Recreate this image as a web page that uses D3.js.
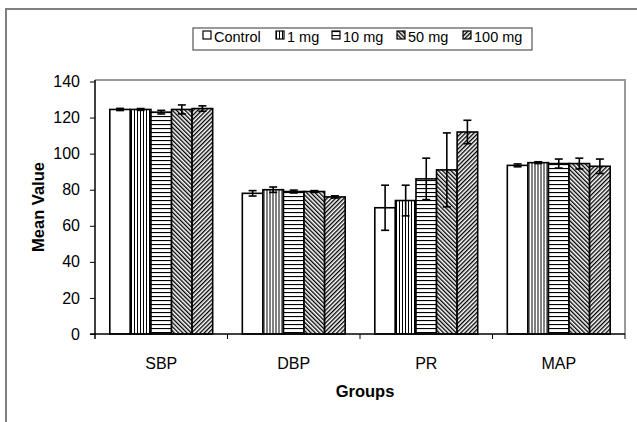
<!DOCTYPE html>
<meta charset="utf-8">
<style>
body { margin: 0; background: #fff; }
text { font-family: "Liberation Sans", Arial, sans-serif; fill: #000; }
.axis path, .axis line { stroke: #000; }
</style>
<body>
<script src="https://cdn.jsdelivr.net/npm/d3@7/dist/d3.min.js"></script>
<script>
const groups = ["SBP", "DBP", "PR", "MAP"];
const series = ["Control", "1 mg", "10 mg", "50 mg", "100 mg"];
// mean values per group, one array per series
const control = [124.5, 78, 70, 93.5];
const mg1 = [124.5, 80, 74, 95];
const mg10 = [123, 79, 86, 94.5];
const mg50 = [124.5, 79, 91, 94.5];
const mg100 = [125, 76, 112, 93];
// error bar half widths
const errControl = [0.6, 1.5, 12.5, 0.8];
const errMg1 = [0.5, 1.5, 8.5, 0.5];
const errMg10 = [1, 0.8, 11.5, 2.5];
const errMg50 = [2.5, 0.5, 20.5, 3];
const errMg100 = [1.5, 0.6, 6.5, 4];
const yTicks = [0, 20, 40, 60, 80, 100, 120, 140];

const values = [control, mg1, mg10, mg50, mg100];
const errors = [errControl, errMg1, errMg10, errMg50, errMg100];
const fills = ["#fff", "url(#pVert)", "url(#pHor)", "url(#pDown)", "url(#pUp)"];

const width = 637, height = 422;
const plotLeft = 95, plotRight = 625, plotTop = 80, plotBottom = 334;

const svg = d3.select("body").append("svg")
    .attr("width", width)
    .attr("height", height);

const defs = svg.append("defs");
function linePattern(id, w, h, x1, y1, x2, y2, sw, transform) {
    const p = defs.append("pattern")
        .attr("id", id)
        .attr("patternUnits", "userSpaceOnUse")
        .attr("width", w)
        .attr("height", h);
    if (transform) p.attr("patternTransform", transform);
    p.append("rect").attr("width", w).attr("height", h).attr("fill", "#fff");
    p.append("line")
        .attr("x1", x1).attr("y1", y1).attr("x2", x2).attr("y2", y2)
        .attr("stroke", "#000").attr("stroke-width", sw);
}
linePattern("pVert", 3, 10, 0.5, 0, 0.5, 10, 1);
linePattern("pHor", 10, 4, 0, 0.5, 10, 0.5, 1.2);
linePattern("pDown", 3, 10, 0.5, 0, 0.5, 10, 1.7, "rotate(-45)");
linePattern("pUp", 3, 10, 0.5, 0, 0.5, 10, 1.7, "rotate(45)");

// outer chart frame
svg.append("path")
    .attr("d", "M6," + height + "V9H" + width)
    .attr("fill", "none")
    .attr("stroke", "#808080")
    .attr("stroke-width", 2);

// plot area border (top/right)
svg.append("path")
    .attr("d", "M" + plotLeft + "," + plotTop + "H" + plotRight + "V" + plotBottom)
    .attr("fill", "none")
    .attr("stroke", "#999")
    .attr("stroke-width", 2);

const x0 = d3.scaleBand().domain(groups).range([plotLeft, plotRight]);
const x1 = d3.scaleBand().domain(series).range([0, x0.bandwidth()]).paddingOuter(0.72);
const y = d3.scaleLinear().domain([0, 140]).range([plotBottom, 81.5]);

const rows = groups.map((g, i) => series.map((s, j) => ({
    group: g, series: s, idx: j, value: values[j][i], err: errors[j][i]
})));

const gGroups = svg.append("g").selectAll("g")
    .data(rows)
    .join("g")
    .attr("transform", (d, i) => "translate(" + x0(groups[i]) + ",0)");

gGroups.selectAll("rect")
    .data(d => d)
    .join("rect")
    .attr("x", d => x1(d.series))
    .attr("y", d => y(d.value))
    .attr("width", x1.bandwidth())
    .attr("height", d => y(0) - y(d.value))
    .attr("fill", d => fills[d.idx])
    .attr("stroke", "#000")
    .attr("stroke-width", 1.6);

const eb = gGroups.selectAll("g.err")
    .data(d => d)
    .join("g")
    .attr("class", "err")
    .attr("stroke", "#000")
    .attr("stroke-width", 1.6);
eb.append("line")
    .attr("x1", d => x1(d.series) + x1.bandwidth() / 2)
    .attr("x2", d => x1(d.series) + x1.bandwidth() / 2)
    .attr("y1", d => y(d.value - d.err))
    .attr("y2", d => y(d.value + d.err));
[1, -1].forEach(sgn => {
    eb.append("line")
        .attr("x1", d => x1(d.series) + x1.bandwidth() / 2 - 4)
        .attr("x2", d => x1(d.series) + x1.bandwidth() / 2 + 4)
        .attr("y1", d => y(d.value + sgn * d.err))
        .attr("y2", d => y(d.value + sgn * d.err));
});

// y axis
const yAxis = svg.append("g")
    .attr("class", "axis")
    .attr("transform", "translate(" + plotLeft + ",0)")
    .call(d3.axisLeft(y).tickValues(yTicks).tickSize(5).tickPadding(10).tickSizeOuter(0));
yAxis.select(".domain").attr("stroke", "#555").attr("stroke-width", 1.5).attr("d", "M0," + plotTop + "V" + (plotBottom + 5));
yAxis.selectAll(".tick line").attr("stroke", "#555");
yAxis.selectAll("text").attr("font-size", 16).attr("font-family", "Liberation Sans, Arial, sans-serif");

// x axis with ticks on category boundaries
const xAxis = svg.append("g")
    .attr("class", "axis")
    .attr("transform", "translate(0," + plotBottom + ")");
xAxis.append("line")
    .attr("x1", plotLeft - 5).attr("x2", plotRight)
    .attr("stroke", "#555").attr("stroke-width", 1.5);
xAxis.selectAll("line.tk")
    .data(groups)
    .join("line")
    .attr("class", "tk")
    .attr("x1", d => x0(d) + x0.bandwidth())
    .attr("x2", d => x0(d) + x0.bandwidth())
    .attr("y1", 0).attr("y2", 5)
    .attr("stroke", "#555");
xAxis.selectAll("text")
    .data(groups)
    .join("text")
    .attr("x", d => x0(d) + x0.bandwidth() / 2)
    .attr("y", 35)
    .attr("text-anchor", "middle")
    .attr("font-size", 16)
    .text(d => d);

svg.append("text")
    .attr("x", 365)
    .attr("y", 397)
    .attr("text-anchor", "middle")
    .attr("font-size", 16.5)
    .attr("font-weight", "bold")
    .text("Groups");

svg.append("text")
    .attr("transform", "translate(44,207) rotate(-90)")
    .attr("text-anchor", "middle")
    .attr("font-size", 16.5)
    .attr("font-weight", "bold")
    .text("Mean Value");

// legend
const legend = svg.append("g");
legend.append("rect")
    .attr("x", 193).attr("y", 28)
    .attr("width", 339).attr("height", 22)
    .attr("fill", "#fff")
    .attr("stroke", "#555")
    .attr("stroke-width", 1.2);
const legendX = [203, 276, 332, 397, 463];
const items = legend.selectAll("g.item")
    .data(series)
    .join("g")
    .attr("class", "item")
    .attr("transform", (d, i) => "translate(" + legendX[i] + ",31)");
items.append("rect")
    .attr("width", 8).attr("height", 8)
    .attr("fill", (d, i) => fills[i])
    .attr("stroke", "#000")
    .attr("stroke-width", 1.2);
items.append("text")
    .attr("x", 11).attr("y", 11)
    .attr("font-size", 14.5)
    .text(d => d);
</script>
</body>
